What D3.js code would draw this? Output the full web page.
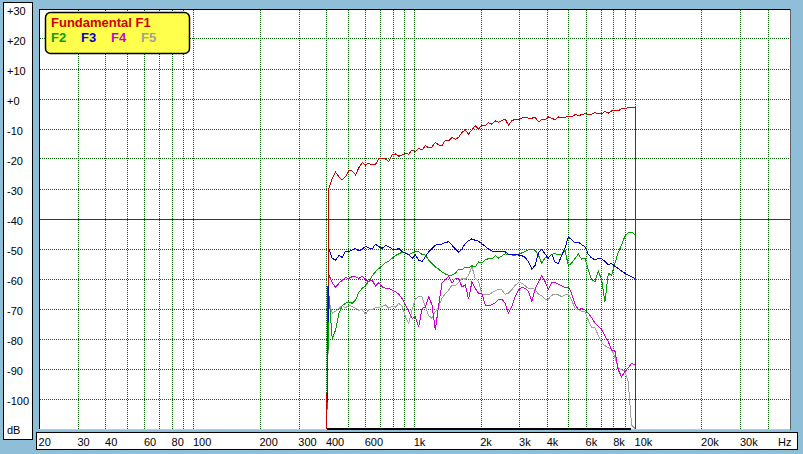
<!DOCTYPE html>
<html><head><meta charset="utf-8">
<script src="https://cdn.jsdelivr.net/npm/d3@7"></script>
<style>
html,body{margin:0;padding:0;background:#8fbfd8;overflow:hidden;}
svg{display:block;}
text{font-family:"Liberation Sans",Arial,sans-serif;}
</style></head><body>
<svg id="c" width="803" height="454"></svg>
<script>
// ---- data ----
const freqs = [409.5, 423.9, 438.9, 454.4, 470.4, 487.0, 504.2, 522.0, 540.4, 559.5, 579.2, 599.6, 620.8, 642.7, 665.4, 688.9, 713.2, 738.3, 764.4, 791.4, 819.3, 848.2, 878.1, 909.1, 941.2, 974.4, 1008.8, 1044.4, 1081.2, 1119.4, 1158.9, 1199.8, 1242.1, 1285.9, 1331.3, 1378.3, 1426.9, 1477.3, 1529.4, 1583.4, 1639.2, 1697.1, 1757.0, 1819.0, 1883.2, 1949.6, 2018.4, 2089.6, 2163.4, 2239.7, 2318.7, 2400.5, 2485.2, 2572.9, 2663.7, 2757.7, 2855.0, 2955.8, 3060.1, 3168.1, 3279.9, 3395.6, 3515.4, 3639.5, 3767.9, 3900.9, 4038.5, 4181.0, 4328.6, 4481.3, 4639.4, 4803.1, 4972.6, 5148.1, 5329.8, 5517.8, 5712.5, 5914.1, 6122.8, 6338.9, 6562.6, 6794.2, 7033.9, 7282.1, 7539.1, 7805.1, 8080.5, 8365.7, 8660.9, 8966.5, 9282.9, 9610.5, 10000];

const f1 = [-29.8, -26.4, -24.4, -25.9, -27.0, -25.9, -23.7, -24.0, -25.3, -22.9, -21.2, -22.0, -21.4, -22.0, -21.8, -19.8, -19.8, -20.0, -20.9, -18.7, -18.3, -19.1, -18.7, -18.1, -18.4, -17.0, -17.6, -16.4, -17.0, -15.6, -16.2, -16.0,
  -14.4, -15.3, -15.6, -13.7, -14.0, -12.8, -13.4, -12.8, -11.1, -10.3, -11.7, -10.3, -8.9, -10.0, -8.7, -8.9, -7.9, -8.4, -7.3, -7.8, -7.2, -6.7, -8.7, -7.3, -6.7, -6.9, -6.4, -6.0, -6.4, -6.4, -6.1,
  -7.6, -6.9, -7.0, -6.0, -6.4, -6.9, -6.0, -6.2, -6.1, -5.8, -6.0, -5.2, -5.4, -5.3, -4.9, -5.1, -5.0, -4.6, -4.9, -4.9, -4.2, -4.7, -4.0, -3.9, -3.9, -3.3, -3.2, -2.9, -2.7, -2.9];

const f2 = [-65.3, -80.0, -77.0, -71.4, -68.9, -68.1, -67.6, -68.1, -67.0, -64.5, -63.1, -62.2, -60.7, -59.0, -57.6, -56.5, -55.6, -54.6, -54.0, -53.1, -52.2, -51.6, -51.1, -51.2, -51.8, -51.4, -50.7, -50.9, -51.8, -52.0, -53.7, -54.8,
  -56.0, -56.7, -57.7, -58.3, -58.8, -58.7, -58.1, -56.8, -57.0, -56.0, -56.2, -55.6, -56.0, -54.3, -54.6, -53.6, -53.2, -53.3, -52.2, -53.0, -52.3, -51.6, -51.8, -52.0, -52.1, -51.8, -51.3, -50.8, -50.3, -50.0, -50.4,
  -52.0, -54.8, -52.9, -52.8, -51.7, -51.6, -52.0, -51.7, -50.4, -55.6, -54.6, -53.2, -51.7, -53.4, -53.1, -57.0, -60.3, -60.9, -57.3, -60.3, -67.6, -58.1, -58.7, -54.8, -51.1, -48.7, -45.7, -44.6, -44.4, -45.3];

const f3 = [-49.8, -53.1, -53.7, -52.2, -52.8, -50.7, -50.9, -50.3, -49.8, -50.7, -50.0, -49.2, -49.6, -50.0, -48.4, -49.2, -49.8, -48.9, -49.2, -50.0, -50.3, -49.8, -50.9, -51.4, -52.0, -53.1, -52.0, -53.7, -54.2, -52.6, -50.9, -49.8,
  -48.7, -48.4, -48.4, -47.8, -47.6, -48.7, -50.0, -51.1, -50.0, -48.2, -47.2, -46.6, -47.1, -47.4, -48.3, -49.1, -50.0, -50.7, -50.9, -50.9, -50.8, -50.9, -51.8, -51.9, -51.8, -52.0, -52.2, -52.8, -54.2, -56.7, -55.5,
  -51.3, -50.0, -51.7, -53.0, -51.7, -54.4, -54.8, -52.2, -49.6, -46.0, -46.9, -48.0, -47.7, -48.6, -49.2, -51.8, -53.0, -53.6, -53.1, -53.3, -54.1, -55.2, -54.8, -55.8, -56.5, -57.4, -58.1, -58.7, -59.2, -60.0];

const f4 = [-58.7, -61.2, -62.8, -61.4, -60.4, -59.6, -59.8, -59.2, -59.2, -59.8, -59.0, -60.3, -60.9, -60.3, -62.4, -61.2, -62.6, -63.1, -63.1, -63.7, -64.2, -65.1, -66.5, -68.5, -70.7, -73.1, -72.6, -76.0, -69.8, -69.4, -65.9, -68.7,
  -77.0, -68.7, -61.4, -60.3, -59.2, -61.4, -59.8, -59.8, -62.6, -62.0, -66.7, -60.9, -63.1, -64.8, -64.8, -68.7, -68.9, -68.6, -67.9, -66.9, -66.7, -68.1, -71.4, -69.2, -65.9, -63.7, -62.8, -63.1, -64.2, -67.5, -63.5,
  -60.9, -59.0, -60.9, -63.4, -61.1, -61.2, -61.8, -62.3, -62.8, -62.7, -64.9, -68.4, -70.2, -69.8, -70.3, -71.4, -72.9, -74.7, -75.8, -76.9, -78.9, -80.9, -83.7, -84.0, -90.3, -92.6, -90.9, -89.6, -88.1, -88.7];

const f5 = [-67.6, -71.4, -70.7, -69.8, -68.9, -69.6, -68.7, -69.1, -69.8, -70.4, -70.2, -71.7, -70.1, -70.3, -69.6, -69.4, -69.2, -68.6, -69.8, -69.0, -69.4, -68.1, -69.0, -72.6, -74.8, -70.3, -66.7, -65.9, -65.9, -69.2, -72.2, -73.1,
  -70.9, -69.3, -66.4, -64.9, -63.7, -62.0, -62.2, -61.2, -59.7, -60.1, -58.7, -55.9, -59.8, -60.9, -65.1, -65.3, -65.2, -64.6, -64.0, -63.4, -63.6, -65.1, -64.7, -63.6, -62.1, -61.2, -61.4, -62.2, -63.2, -63.0, -63.5,
  -65.0, -65.6, -66.7, -66.7, -65.4, -65.1, -65.3, -65.9, -65.3, -65.1, -67.1, -69.8, -70.3, -70.7, -70.9, -73.8, -76.2, -76.2, -78.9, -81.2, -82.2, -82.9, -83.3, -86.1, -89.6, -90.3, -90.7, -94.2, -108.7, -110];

const seriesNames = ["F1", "F2", "F3", "F4", "F5"];
const seriesColors = ["#cc0000", "#00a000", "#0000cc", "#cc00cc", "#a0a0a0"];
const drawOrder = ["F5", "F4", "F2", "F3", "F1"];

const yTicks = [30, 20, 10, 0, -10, -20, -30, -40, -50, -60, -70, -80, -90, -100];
const yTickLabels = ["+30", "+20", "+10", "+0", "-10", "-20", "-30", "-40", "-50", "-60", "-70", "-80", "-90", "-100"];
const xTicks = [20, 30, 40, 60, 80, 100, 200, 300, 400, 600, 1000, 2000, 3000, 4000, 6000, 8000, 10000, 20000, 30000];
const xTickLabels = ["20", "30", "40", "60", "80", "100", "200", "300", "400", "600", "1k", "2k", "3k", "4k", "6k", "8k", "10k", "20k", "30k"];
const gridFreqs = [30, 40, 50, 60, 70, 80, 90, 100, 200, 300, 400, 500, 600, 700, 800, 900, 1000, 2000, 3000, 4000, 5000, 6000, 7000, 8000, 9000, 10000, 20000, 30000, 40000];
const gridLevels = [20, 10, 0, -10, -20, -30, -40, -50, -60, -70, -80, -90, -100];
const refLevel = -40;
const floorLevel = -110;
const startFreq = 400;
const floorSpan = [400, 9600];

// ---- drawing ----
const svg = d3.select("#c");
const x = d3.scaleLog().domain([20, 50000]).range([39.4, 789.7]);
const y = d3.scaleLinear().domain([-110, 30]).range([429, 9]);
const px = v => Math.floor(v) + 0.5;

// left label panel
svg.append("rect").attr("x", 3.5).attr("y", 2.5).attr("width", 29).attr("height", 437)
  .attr("fill", "#fff").attr("stroke", "#000").attr("shape-rendering", "crispEdges");
// bottom label panel
svg.append("rect").attr("x", 36.5).attr("y", 432.5).attr("width", 761).attr("height", 17)
  .attr("fill", "#fff").attr("stroke", "#000").attr("shape-rendering", "crispEdges");

// plot area
svg.append("rect").attr("x", 39).attr("y", 9).attr("width", 751).attr("height", 420).attr("fill", "#fff");
svg.append("line").attr("x1", 39).attr("x2", 790).attr("y1", 9.5).attr("y2", 9.5).attr("stroke", "#000").attr("shape-rendering", "crispEdges");
svg.append("line").attr("x1", 39.5).attr("x2", 39.5).attr("y1", 9).attr("y2", 429).attr("stroke", "#000").attr("shape-rendering", "crispEdges");
svg.append("line").attr("x1", 39).attr("x2", 791).attr("y1", 429.5).attr("y2", 429.5).attr("stroke", "#c8c8c8").attr("shape-rendering", "crispEdges");
svg.append("line").attr("x1", 790.5).attr("x2", 790.5).attr("y1", 9).attr("y2", 430).attr("stroke", "#606060").attr("shape-rendering", "crispEdges");

// grid
const grid = svg.append("g").attr("stroke", "#006400").attr("stroke-dasharray", "1,1").attr("shape-rendering", "crispEdges");
grid.selectAll("line.v").data(gridFreqs).join("line").attr("class", "v")
  .attr("x1", d => px(x(d))).attr("x2", d => px(x(d)))
  .attr("y1", 10).attr("y2", 429);
grid.selectAll("line.h").data(gridLevels.filter(d => d !== refLevel)).join("line").attr("class", "h")
  .attr("x1", 40).attr("x2", 790)
  .attr("y1", d => px(y(d))).attr("y2", d => px(y(d)));

// reference level line
svg.append("line").attr("x1", 40).attr("x2", 790).attr("y1", px(y(refLevel))).attr("y2", px(y(refLevel)))
  .attr("stroke", "#c00000").attr("shape-rendering", "crispEdges");

// floor span
svg.append("line").attr("x1", x(floorSpan[0])).attr("x2", x(floorSpan[1]))
  .attr("y1", y(floorLevel) - 0.5).attr("y2", y(floorLevel) - 0.5)
  .attr("stroke", "#000").attr("stroke-width", 2).attr("shape-rendering", "crispEdges");

// traces
const seriesData = { F1: f1, F2: f2, F3: f3, F4: f4, F5: f5 };
const line = d3.line().x(d => x(d[0])).y(d => y(d[1]));
drawOrder.forEach(name => {
  const vals = seriesData[name];
  const n = Math.min(vals.length, freqs.length);
  const pts = [[startFreq, floorLevel]];
  for (let i = 0; i < n; i++) pts.push([freqs[i], vals[i]]);
  pts.push([freqs[n - 1], floorLevel]);
  svg.append("path").attr("d", line(pts)).attr("fill", "none")
    .attr("stroke", seriesColors[seriesNames.indexOf(name)]).attr("stroke-width", 1)
    .attr("shape-rendering", "crispEdges");
});

// y labels
svg.append("g").selectAll("text").data(yTicks).join("text")
  .attr("x", 7).attr("y", d => y(d) + 6)
  .attr("font-size", 11).attr("fill", "#000")
  .text((d, i) => yTickLabels[i]);
svg.append("text").attr("x", 7).attr("y", 434).attr("font-size", 11).text("dB");

// x labels
svg.append("g").selectAll("text").data(xTicks).join("text")
  .attr("x", d => x(d) - 0.8).attr("y", 446)
  .attr("font-size", 11).attr("fill", "#000")
  .text((d, i) => xTickLabels[i]);
svg.append("text").attr("x", 778).attr("y", 446).attr("font-size", 11).text("Hz");

// legend
const lg = svg.append("g");
lg.append("rect").attr("x", 45.5).attr("y", 12.5).attr("width", 144).attr("height", 41).attr("rx", 5)
  .attr("fill", "#ffff4c").attr("stroke", "#000").attr("stroke-width", 1.5);
lg.append("text").attr("x", 51).attr("y", 26.5).attr("font-size", 13).attr("font-weight", "bold")
  .attr("fill", seriesColors[0]).text("Fundamental F1");
const legendRow = seriesNames.slice(1);
lg.selectAll("text.r").data(legendRow).join("text").attr("class", "r")
  .attr("x", (d, i) => 51 + i * 30).attr("y", 41.5)
  .attr("font-size", 13).attr("font-weight", "bold")
  .attr("fill", (d, i) => seriesColors[i + 1]).text(d => d);
</script>
</body></html>
